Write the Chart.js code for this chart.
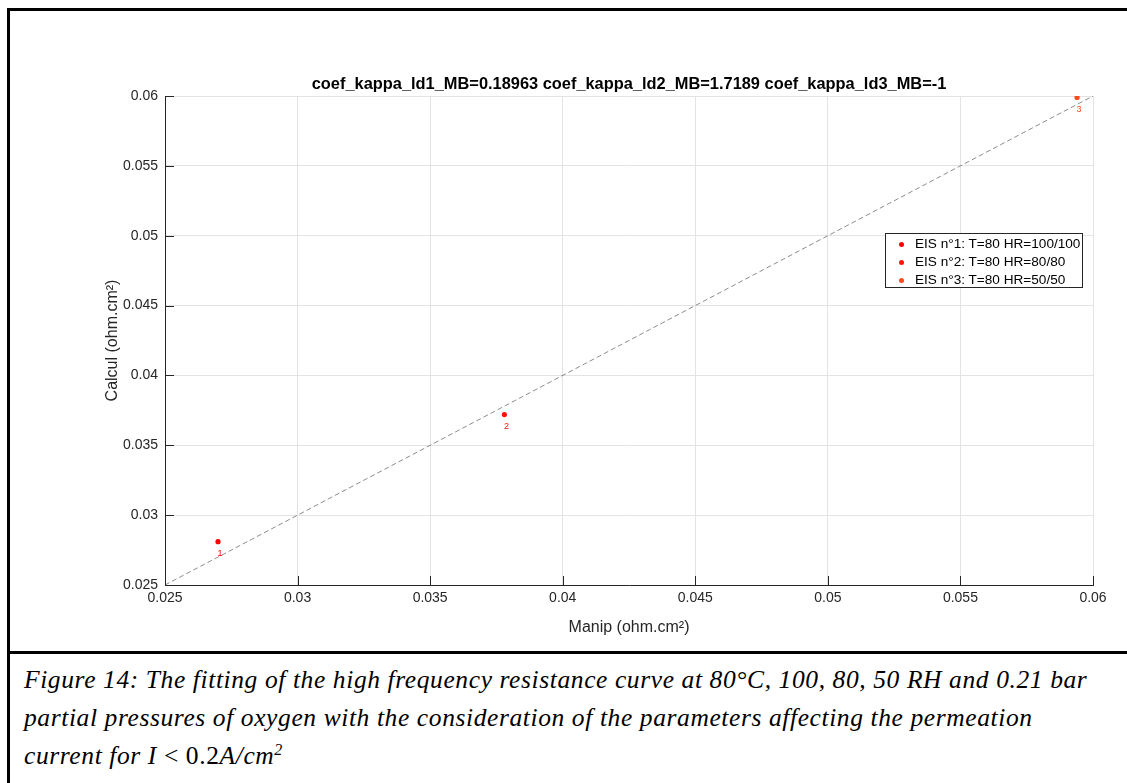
<!DOCTYPE html>
<html>
<head>
<meta charset="utf-8">
<script src="https://cdn.jsdelivr.net/npm/chart.js@4.4.0/dist/chart.umd.min.js"></script>
<style>
  html, body { margin: 0; padding: 0; background: #fff; }
  body { width: 1127px; height: 783px; position: relative; overflow: hidden; font-family: "Liberation Sans", Arial, sans-serif; }
  #frame { position: absolute; left: 7px; top: 8px; width: 1200px; height: 800px; border-top: 3px solid #000; border-left: 3px solid #000; }
  #divider { position: absolute; left: 7px; top: 651px; width: 1200px; height: 3px; background: #000; }
  #wrap { position: absolute; left: 0; top: 0; width: 1127px; height: 650px; }
  #legend { position: absolute; left: 885px; top: 233px; width: 198px; height: 55px; border: 1px solid #262626; background: #fff; padding-top: 1px; box-sizing: border-box; }
  #legend div { position: relative; height: 18px; line-height: 18px; font-size: 13.6px; color: #000; padding-left: 29px; white-space: nowrap; }
  #legend span { position: absolute; left: 13px; top: 7px; width: 5px; height: 5px; border-radius: 50%; }
  #caption { position: absolute; left: 24px; top: 661px; font-family: "Liberation Serif", serif; font-style: italic; font-size: 25.5px; letter-spacing: 0.6px; line-height: 38px; color: #000; white-space: nowrap; }
  #caption .up { font-style: normal; }
</style>
</head>
<body>
<div id="frame"></div>
<div id="divider"></div>
<div id="wrap"><canvas id="fitChart"></canvas></div>
<div id="legend"></div>
<div id="caption">Figure 14: The fitting of the high frequency resistance curve at 80°C, 100, 80, 50 RH and 0.21 bar<br>partial pressures of oxygen with the consideration of the parameters affecting the permeation<br>current for I <span class="up">&lt; 0.2</span>A/cm<sup style="font-size:16px;line-height:0">2</sup></div>
<script>
const manip = [0.0270, 0.0378, 0.0594];
const calcul = [0.0281, 0.0372, 0.0599];
const seriesNames = ['EIS n°1: T=80 HR=100/100', 'EIS n°2: T=80 HR=80/80', 'EIS n°3: T=80 HR=50/50'];
const pointTags = ['1', '2', '3'];
const pointColors = ['#ff0000', '#ff1208', '#ff4a1c'];
const diagX = [0.025, 0.06];
const diagY = [0.025, 0.06];
const tickValues = [0.025, 0.03, 0.035, 0.04, 0.045, 0.05, 0.055, 0.06];
const tickLabels = ['0.025', '0.03', '0.035', '0.04', '0.045', '0.05', '0.055', '0.06'];
const chartTitle = 'coef_kappa_ld1_MB=0.18963 coef_kappa_ld2_MB=1.7189 coef_kappa_ld3_MB=-1';

const axisColor = '#262626';
const font = '"Liberation Sans", Arial, sans-serif';

// title centred over the axes, like matlab does it
const axesTitle = {
    id: 'axesTitle',
    afterDraw(chart) {
        const ctx = chart.ctx, area = chart.chartArea;
        ctx.save();
        ctx.font = 'bold 16.4px ' + font;
        ctx.fillStyle = '#000';
        ctx.textAlign = 'center';
        ctx.textBaseline = 'middle';
        ctx.fillText(chartTitle, (area.left + area.right) / 2, area.top - 12);
        ctx.restore();
    }
};

// small tags "1","2","3" under the points
const tagPlugin = {
    id: 'tags',
    afterDatasetsDraw(chart) {
        const ctx = chart.ctx;
        ctx.save();
        ctx.font = '9px ' + font;
        ctx.textAlign = 'center';
        ctx.textBaseline = 'middle';
        chart.data.datasets.forEach((ds, i) => {
            if (ds.tag === undefined) return;
            const pt = chart.getDatasetMeta(i).data[0];
            ctx.fillStyle = ds.backgroundColor;
            ctx.fillText(ds.tag, pt.x + 2, pt.y + 12);
        });
        ctx.restore();
    }
};

// matlab style ticks pointing into the axes
const innerTicks = {
    id: 'innerTicks',
    afterDraw(chart) {
        const ctx = chart.ctx;
        const xs = chart.scales.x, ys = chart.scales.y;
        const len = 9;
        ctx.save();
        ctx.strokeStyle = axisColor;
        ctx.lineWidth = 1;
        ctx.beginPath();
        tickValues.forEach(v => {
            const px = Math.round(xs.getPixelForValue(v)) + 0.5;
            ctx.moveTo(px, ys.bottom);
            ctx.lineTo(px, ys.bottom - len);
            const py = Math.round(ys.getPixelForValue(v)) + 0.5;
            ctx.moveTo(xs.left, py);
            ctx.lineTo(xs.left + len, py);
        });
        ctx.stroke();
        ctx.restore();
    }
};

const datasets = [{
    type: 'line',
    label: 'y=x',
    data: diagX.map((x, i) => ({x: x, y: diagY[i]})),
    borderColor: '#6e6e6e',
    borderWidth: 0.8,
    borderDash: [5, 3],
    pointRadius: 0,
    fill: false,
    order: 5
}];
manip.forEach((x, i) => {
    datasets.push({
        type: 'scatter',
        label: seriesNames[i],
        tag: pointTags[i],
        data: [{x: x, y: calcul[i]}],
        backgroundColor: pointColors[i],
        borderColor: pointColors[i],
        borderWidth: 0,
        pointRadius: 2.6,
        order: 1
    });
});

const scaleBase = {
    type: 'linear',
    min: 0.025,
    max: 0.06,
    afterBuildTicks: s => { s.ticks = tickValues.map(v => ({value: v})); },
    grid: { color: '#e3e3e3', lineWidth: 1, drawTicks: false },
    border: { color: axisColor, width: 1 }
};

const fitChart = new Chart(document.getElementById('fitChart'), {
    data: { datasets: datasets },
    options: {
        responsive: true,
        maintainAspectRatio: false,
        animation: false,
        layout: { padding: { top: 96, right: 34, bottom: 0, left: 0 } },
        plugins: {
            legend: { display: false },
            tooltip: { enabled: false },
            title: { display: false }
        },
        scales: {
            x: Object.assign({}, scaleBase, {
                position: 'bottom',
                afterFit: s => { s.height = 65; },
                ticks: {
                    color: axisColor, padding: 5, maxRotation: 0,
                    font: { family: font, size: 14 },
                    callback: (v, i) => tickLabels[i]
                },
                title: {
                    display: true, text: 'Manip (ohm.cm²)', color: axisColor,
                    font: { family: font, size: 16 },
                    padding: { top: 0, bottom: 13 }
                }
            }),
            y: Object.assign({}, scaleBase, {
                position: 'left',
                afterFit: s => { s.width = 165; },
                ticks: {
                    color: axisColor, padding: 7,
                    font: { family: font, size: 14 },
                    callback: (v, i) => tickLabels[i]
                },
                title: {
                    display: true, text: 'Calcul (ohm.cm²)', color: axisColor,
                    font: { family: font, size: 16 },
                    padding: { top: 103, bottom: 0 }
                }
            })
        }
    },
    plugins: [axesTitle, tagPlugin, innerTicks]
});

// legend box drawn from the same series
const legendBox = document.getElementById('legend');
seriesNames.forEach((name, i) => {
    const row = document.createElement('div');
    const dot = document.createElement('span');
    dot.style.background = pointColors[i];
    row.appendChild(dot);
    row.appendChild(document.createTextNode(name));
    legendBox.appendChild(row);
});
</script>
</body>
</html>
